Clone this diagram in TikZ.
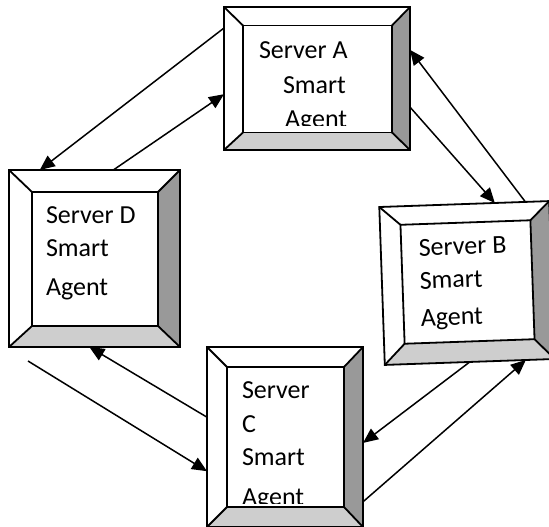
\documentclass[tikz,border=0pt]{standalone}
\usepackage{fontspec}
\setmainfont{Carlito}
\usetikzlibrary{arrows.meta,calc}

\definecolor{bevdark}{RGB}{153,153,153}
\definecolor{bevlight}{RGB}{206,206,206}

\tikzset{
  frame/.style={draw=none, inner sep=0pt, outer sep=0pt, shape=rectangle},
  edge/.style={draw=black, line width=1.8pt, line join=miter},
  lbl/.style={inner sep=0pt, outer sep=0pt, anchor=base west,
              font=\fontsize{26}{30}\selectfont},
  link/.style={draw=black, line width=1.5pt,
               -{Triangle[length=15pt,width=13pt]}},
}

% Bevelled "button" box: outer node #1 and inner node #1i
\newcommand\bevelbox[1]{%
  \fill[white] (#1.north west) -- (#1.north east) -- (#1.south east)
      -- (#1.south west) -- cycle;
  \fill[bevdark] (#1.north east) -- (#1.south east) -- (#1i.south east)
      -- (#1i.north east) -- cycle;
  \fill[bevlight] (#1.south west) -- (#1.south east) -- (#1i.south east)
      -- (#1i.south west) -- cycle;
  \draw[edge] (#1.north west) -- (#1.north east) -- (#1.south east)
      -- (#1.south west) -- cycle;
  \draw[edge] (#1i.north west) -- (#1i.north east) -- (#1i.south east)
      -- (#1i.south west) -- cycle;
  \foreach \c in {north west,north east,south east,south west}
    \draw[edge] (#1.\c) -- (#1i.\c);
}

\begin{document}
\begin{tikzpicture}[x=1pt,y=-1pt]
\useasboundingbox (0,0) rectangle (549,527);
\clip (0,0) rectangle (549,527);

% server boxes
\node[frame, minimum width=186pt, minimum height=143pt] (A) at (317,78.5) {};
\node[frame, minimum width=149pt, minimum height=107pt] (Ai) at (317.5,79) {};
\node[frame, rotate=2, minimum width=170pt, minimum height=158pt] (B) at (467,283) {};
\node[frame, rotate=2, minimum width=130pt, minimum height=119pt] (Bi) at (467.5,282) {};
\node[frame, minimum width=156pt, minimum height=180pt] (C) at (285,437) {};
\node[frame, minimum width=117pt, minimum height=140pt] (Ci) at (285.5,437) {};
\node[frame, minimum width=171pt, minimum height=177pt] (D) at (94.5,258.5) {};
\node[frame, minimum width=126pt, minimum height=134pt] (Di) at (95,259) {};

\bevelbox{A}
\bevelbox{B}
\bevelbox{C}
\bevelbox{D}

% labels
\node[lbl] (a1) at (259,59) {Server A};
\node[lbl] (a2) at (283,93) {Smart};
\begin{scope}
  \clip (243,25) rectangle (392,125);
  \node[lbl] (a3) at (285,127) {Agent};
\end{scope}

\node[lbl, rotate=2] (b1) at (419,256) {Server B};
\node[lbl, rotate=2] (b2) at (420,289) {Smart};
\node[lbl, rotate=2] (b3) at (421,326) {Agent};

\node[lbl] (c1) at (242,398) {Server};
\node[lbl] (c2) at (242,432) {C};
\node[lbl] (c3) at (242,465) {Smart};
\begin{scope}
  \clip (227,367) rectangle (344,503);
  \node[lbl] (c4) at (242,505) {Agent};
\end{scope}

\node[lbl] (d1) at (46,223) {Server D};
\node[lbl] (d2) at (46,256) {Smart};
\node[lbl] (d3) at (46,295) {Agent};

% message links
\coordinate (dfree) at (28,361);
\draw[link] ($(A.north west)!0.147!(A.south west)$) -- ($(D.north west)!0.18!(D.north east)$);
\draw[link] ($(D.north west)!0.61!(D.north east)$) -- ($(A.north west)!0.61!(A.south west)$);
\draw[link] ($(A.north east)!0.70!(A.south east)$) -- ($(B.north west)!0.68!(B.north east)$);
\draw[link] ($(B.north west)!0.86!(B.north east)$) -- ($(A.north east)!0.30!(A.south east)$);
\draw[link] ($(B.south west)!0.50!(B.south east)$) -- ($(C.north east)!0.533!(C.south east)$);
\draw[link] ($(C.north east)!0.86!(C.south east)$) -- ($(B.south west)!0.83!(B.south east)$);
\draw[link] ($(C.north west)!0.39!(C.south west)$) -- ($(D.south west)!0.47!(D.south east)$);
\draw[link] (dfree) -- ($(C.north west)!0.69!(C.south west)$);
\end{tikzpicture}
\end{document}
